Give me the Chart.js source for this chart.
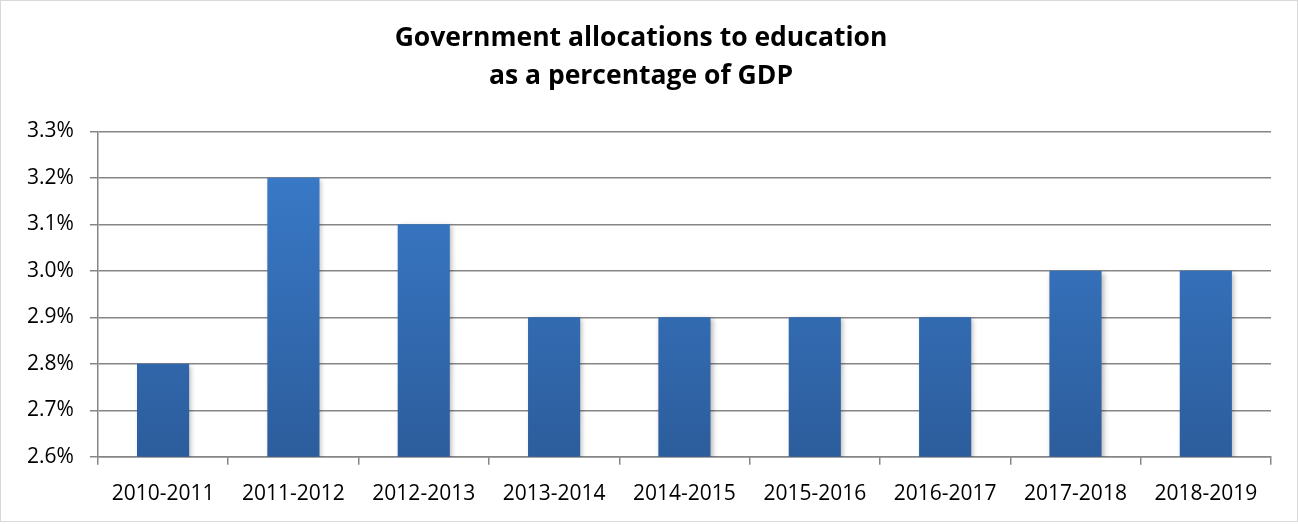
<!DOCTYPE html>
<html>
<head>
<meta charset="utf-8">
<script src="https://cdn.jsdelivr.net/npm/chart.js@4"></script>
<style>
  body { margin: 0; background: #fff; }
  #wrap { position: relative; width: 1296px; height: 520px; border: 1px solid #d9d9d9; }
</style>
</head>
<body>
<div id="wrap"><canvas id="bars"></canvas></div>
<script>
const years = ["2010-2011", "2011-2012", "2012-2013", "2013-2014", "2014-2015",
  "2015-2016", "2016-2017", "2017-2018", "2018-2019"];
const shareOfGdp = [2.8, 3.2, 3.1, 2.9, 2.9, 2.9, 2.9, 3.0, 3.0];
const titleLines = ["Government allocations to education", "as a percentage of GDP"];

const font = "'Open Sans', 'Liberation Sans', sans-serif";

// soft drop shadow under the bars, like the office chart
const barShadow = {
  id: "barShadow",
  beforeDatasetsDraw(chart) {
    const ctx = chart.ctx;
    ctx.save();
    ctx.shadowColor = "rgba(0,0,0,0.28)";
    ctx.shadowBlur = 5;
    ctx.shadowOffsetX = 2;
    ctx.shadowOffsetY = 2;
  },
  afterDatasetsDraw(chart) {
    chart.ctx.restore();
  },
};

new Chart(document.getElementById("bars"), {
  type: "bar",
  data: {
    labels: years,
    datasets: [{
      data: shareOfGdp,
      backgroundColor: function (context) {
        const area = context.chart.chartArea;
        if (!area) return "#3a7bcb";
        const g = context.chart.ctx.createLinearGradient(0, area.top, 0, area.bottom);
        g.addColorStop(0, "#3b7dcd");
        g.addColorStop(1, "#2c5d9c");
        return g;
      },
      borderWidth: 0,
      categoryPercentage: 1,
      barPercentage: 0.4,
    }],
  },
  plugins: [barShadow],
  options: {
    responsive: true,
    maintainAspectRatio: false,
    animation: false,
    layout: { padding: { left: 10, right: 26, top: 8, bottom: -3 } },
    scales: {
      x: {
        grid: {
          display: true,
          drawOnChartArea: false,
          offset: true,
          color: "#868686",
          lineWidth: 1.5,
          tickLength: 8,
        },
        border: { color: "#868686", width: 1.5 },
        ticks: { color: "#000", font: { family: font, size: 21 }, padding: 17, maxRotation: 0 },
      },
      y: {
        min: 2.6,
        max: 3.3,
        ticks: {
          stepSize: 0.1,
          color: "#000",
          font: { family: font, size: 21 },
          padding: 16,
          callback: (v) => v.toFixed(1) + "%",
        },
        grid: { color: "#868686", lineWidth: 1.5, tickLength: 8 },
        border: { color: "#868686", width: 1.5 },
      },
    },
    plugins: {
      legend: { display: false },
      tooltip: { enabled: false },
      title: {
        display: true,
        text: titleLines,
        color: "#000",
        font: { family: font, size: 26.5, weight: "bold", lineHeight: 1.42 },
        padding: { top: 11, bottom: 36 },
      },
    },
  },
});
</script>
</body>
</html>
